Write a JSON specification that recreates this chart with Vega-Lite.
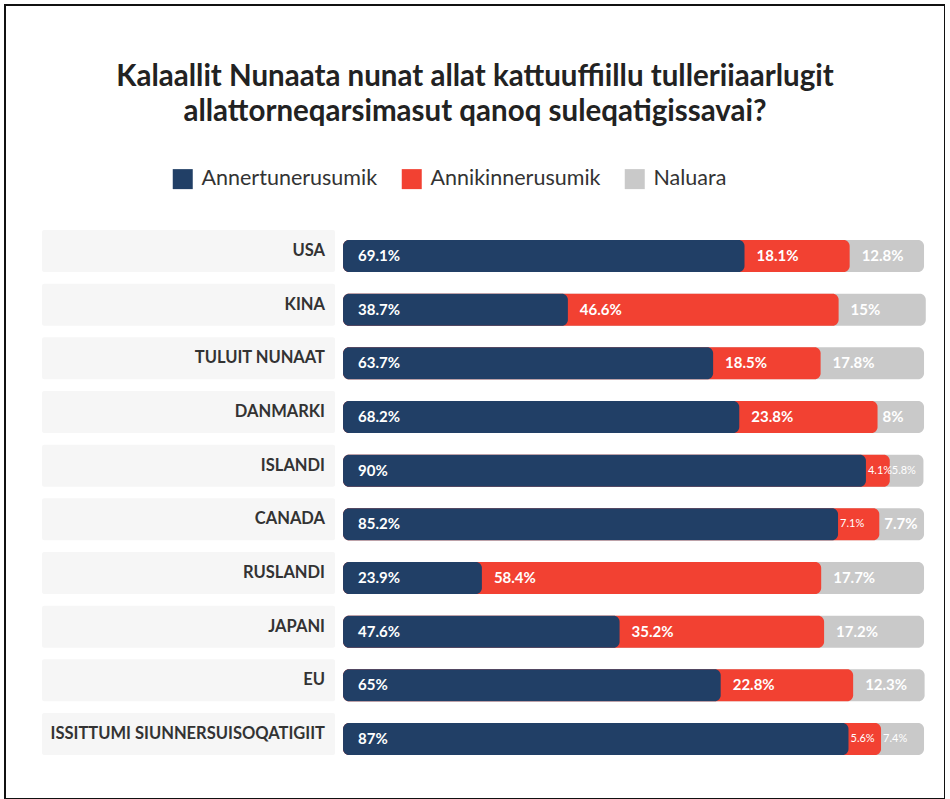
{
  "$schema": "https://vega.github.io/schema/vega-lite/v6.json",
  "width": 940,
  "height": 794,
  "autosize": {"type": "none"},
  "padding": {"left": 5, "top": 5, "right": 0, "bottom": 0},
  "background": "white",
  "config": {
    "view": {"stroke": "#111", "strokeWidth": 2},
    "font": "Lato"
  },
  "title": {
    "text": ["Kalaallit Nunaata nunat allat kattuuffiillu tulleriiaarlugit", "allattorneqarsimasut qanoq suleqatigissavai?"],
    "font": "Lato",
    "fontSize": 29.5,
    "fontWeight": "bold",
    "color": "#222222",
    "lineHeight": 35,
    "anchor": "middle",
    "offset": -122
  },
  "datasets": {
    "d": [
      {"country": "USA", "answer": "Annertunerusumik", "value": 69.1},
      {"country": "USA", "answer": "Annikinnerusumik", "value": 18.1},
      {"country": "USA", "answer": "Naluara", "value": 12.8},
      {"country": "KINA", "answer": "Annertunerusumik", "value": 38.7},
      {"country": "KINA", "answer": "Annikinnerusumik", "value": 46.6},
      {"country": "KINA", "answer": "Naluara", "value": 15},
      {"country": "TULUIT NUNAAT", "answer": "Annertunerusumik", "value": 63.7},
      {"country": "TULUIT NUNAAT", "answer": "Annikinnerusumik", "value": 18.5},
      {"country": "TULUIT NUNAAT", "answer": "Naluara", "value": 17.8},
      {"country": "DANMARKI", "answer": "Annertunerusumik", "value": 68.2},
      {"country": "DANMARKI", "answer": "Annikinnerusumik", "value": 23.8},
      {"country": "DANMARKI", "answer": "Naluara", "value": 8},
      {"country": "ISLANDI", "answer": "Annertunerusumik", "value": 90},
      {"country": "ISLANDI", "answer": "Annikinnerusumik", "value": 4.1},
      {"country": "ISLANDI", "answer": "Naluara", "value": 5.8},
      {"country": "CANADA", "answer": "Annertunerusumik", "value": 85.2},
      {"country": "CANADA", "answer": "Annikinnerusumik", "value": 7.1},
      {"country": "CANADA", "answer": "Naluara", "value": 7.7},
      {"country": "RUSLANDI", "answer": "Annertunerusumik", "value": 23.9},
      {"country": "RUSLANDI", "answer": "Annikinnerusumik", "value": 58.4},
      {"country": "RUSLANDI", "answer": "Naluara", "value": 17.7},
      {"country": "JAPANI", "answer": "Annertunerusumik", "value": 47.6},
      {"country": "JAPANI", "answer": "Annikinnerusumik", "value": 35.2},
      {"country": "JAPANI", "answer": "Naluara", "value": 17.2},
      {"country": "EU", "answer": "Annertunerusumik", "value": 65},
      {"country": "EU", "answer": "Annikinnerusumik", "value": 22.8},
      {"country": "EU", "answer": "Naluara", "value": 12.3},
      {"country": "ISSITTUMI SIUNNERSUISOQATIGIIT", "answer": "Annertunerusumik", "value": 87},
      {"country": "ISSITTUMI SIUNNERSUISOQATIGIIT", "answer": "Annikinnerusumik", "value": 5.6},
      {"country": "ISSITTUMI SIUNNERSUISOQATIGIIT", "answer": "Naluara", "value": 7.4}
    ]
  },
  "data": {"name": "d"},
  "transform": [
    {"stack": "value", "groupby": ["country"], "sort": [{"field": "answer", "order": "ascending"}], "as": ["v0", "v1"]},
    {"calculate": "datum.value + '%'", "as": "label"}
  ],
  "encoding": {
    "y": {
      "field": "country",
      "type": "nominal",
      "sort": null,
      "axis": null,
      "scale": {
        "domain": ["USA", "KINA", "TULUIT NUNAAT", "DANMARKI", "ISLANDI", "CANADA", "RUSLANDI", "JAPANI", "EU", "ISSITTUMI SIUNNERSUISOQATIGIIT"],
        "range": [224.17, 760.87],
        "paddingInner": 0.4038,
        "paddingOuter": 0.2019
      }
    }
  },
  "layer": [
    {
      "transform": [{"filter": "datum.answer == 'Annertunerusumik'"}],
      "mark": {"type": "bar", "height": 42, "yOffset": -5, "color": "#f6f6f6", "cornerRadius": 2},
      "encoding": {
        "x": {"datum": -51.8, "type": "quantitative", "scale": {"domain": [-58.18, 103.61], "nice": false, "zero": false}, "axis": null},
        "x2": {"datum": -1.38}
      }
    },
    {
      "mark": {"type": "bar", "cornerRadius": 6},
      "encoding": {
        "x": {"field": "v1", "type": "quantitative", "stack": null},
        "x2": {"datum": 0},
        "order": {"field": "v1", "sort": "descending"},
        "color": {
          "field": "answer",
          "type": "nominal",
          "scale": {"domain": ["Annertunerusumik", "Annikinnerusumik", "Naluara"], "range": ["#213f66", "#f24132", "#c9c9c9"]},
          "legend": {
            "orient": "none",
            "legendX": 167,
            "legendY": 163,
            "direction": "horizontal",
            "title": null,
            "symbolType": "square",
            "symbolSize": 400,
            "symbolStrokeWidth": 0,
            "labelFont": "Lato",
            "labelFontSize": 21.5,
            "labelColor": "#333333",
            "labelOffset": 8,
            "columnPadding": 23,
            "labelLimit": 300
          }
        }
      }
    },
    {
      "transform": [{"filter": "datum.answer == 'Annertunerusumik'"}],
      "mark": {"type": "text", "align": "right", "baseline": "middle", "yOffset": -5, "font": "Lato", "fontWeight": "bold", "fontSize": 16.5, "color": "#333333"},
      "encoding": {
        "x": {"datum": -3.1, "type": "quantitative"},
        "text": {"field": "country"}
      }
    },
    {
      "transform": [{"filter": "datum.answer == 'Annertunerusumik'"}],
      "mark": {"type": "text", "align": "left", "baseline": "middle", "dx": 15, "font": "Lato", "fontWeight": "bold", "fontSize": 15, "color": "white"},
      "encoding": {
        "x": {"field": "v0", "type": "quantitative"},
        "text": {"field": "label"}
      }
    },
    {
      "transform": [{"filter": "datum.answer != 'Annertunerusumik' && datum.value >= 10"}],
      "mark": {"type": "text", "align": "left", "baseline": "middle", "dx": 12, "font": "Lato", "fontWeight": "bold", "fontSize": 15, "color": "white"},
      "encoding": {
        "x": {"field": "v0", "type": "quantitative"},
        "text": {"field": "label"}
      }
    },
    {
      "transform": [{"filter": "datum.answer != 'Annertunerusumik' && datum.value >= 7.5 && datum.value < 10"}],
      "mark": {"type": "text", "align": "left", "baseline": "middle", "dx": 5, "font": "Lato", "fontWeight": "bold", "fontSize": 15, "color": "white"},
      "encoding": {
        "x": {"field": "v0", "type": "quantitative"},
        "text": {"field": "label"}
      }
    },
    {
      "transform": [{"filter": "datum.answer != 'Annertunerusumik' && datum.value < 7.5"}],
      "mark": {"type": "text", "align": "left", "baseline": "middle", "dx": 2, "font": "Lato", "fontWeight": "normal", "fontSize": 11, "color": "white"},
      "encoding": {
        "x": {"field": "v0", "type": "quantitative"},
        "text": {"field": "label"}
      }
    }
  ]
}
